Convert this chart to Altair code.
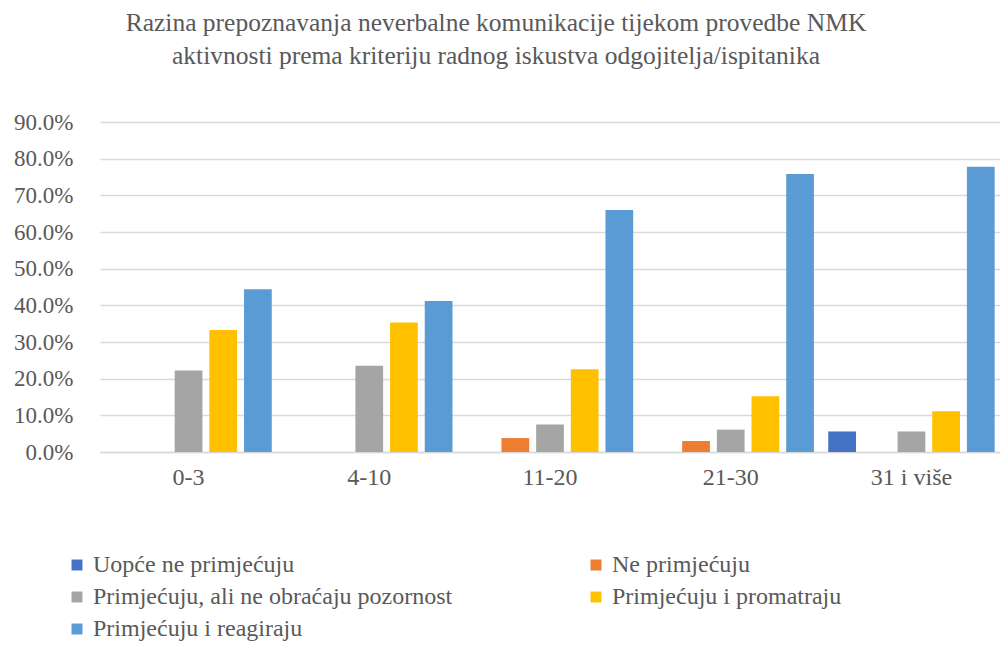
import altair as alt
import pandas as pd

groups = ["0-3", "4-10", "11-20", "21-30", "31 i više"]
series = [
    "Uopće ne primjećuju",
    "Ne primjećuju",
    "Primjećuju, ali ne obraćaju pozornost",
    "Primjećuju i  promatraju",
    "Primjećuju i reagiraju",
]
colors = ["#4472C4", "#ED7D31", "#A5A5A5", "#FFC000", "#5B9BD5"]

uopce_ne = [0.0, 0.0, 0.0, 0.0, 5.6]
ne_prim = [0.0, 0.0, 3.8, 3.0, 0.0]
prim_ali = [22.2, 23.5, 7.5, 6.1, 5.6]
prim_prom = [33.3, 35.3, 22.6, 15.2, 11.1]
prim_reag = [44.4, 41.2, 66.0, 75.8, 77.8]

rows = []
for s, vals in zip(series, [uopce_ne, ne_prim, prim_ali, prim_prom, prim_reag]):
    for g, v in zip(groups, vals):
        rows.append({"grupa": g, "serija": s, "vrijednost": v / 100.0})
df = pd.DataFrame(rows)

FONT = "'Liberation Serif', 'Times New Roman', 'DejaVu Serif', serif"
TXT = "#595959"

chart = (
    alt.Chart(df)
    .mark_bar()
    .encode(
        x=alt.X(
            "grupa:N",
            sort=groups,
            title=None,
            scale=alt.Scale(paddingInner=0.06, paddingOuter=0.02),
            axis=alt.Axis(
                labelAngle=0,
                labelFont=FONT,
                labelFontSize=24,
                labelColor=TXT,
                labelPadding=13,
                ticks=False,
                domainColor="#D9D9D9",
                domainWidth=1.5,
                grid=False,
            ),
        ),
        xOffset=alt.XOffset(
            "serija:N",
            sort=series,
            scale=alt.Scale(paddingInner=0.2, paddingOuter=0.05),
        ),
        y=alt.Y(
            "vrijednost:Q",
            title=None,
            scale=alt.Scale(domain=[0, 0.9], nice=False),
            axis=alt.Axis(
                values=[0, 0.1, 0.2, 0.3, 0.4, 0.5, 0.6, 0.7, 0.8, 0.9],
                format=".1%",
                labelFont=FONT,
                labelFontSize=23,
                labelColor=TXT,
                labelPadding=27,
                ticks=False,
                domain=False,
                gridColor="#D9D9D9",
                gridWidth=1.5,
            ),
        ),
        color=alt.Color(
            "serija:N",
            sort=series,
            scale=alt.Scale(domain=series, range=colors),
            legend=alt.Legend(
                title=None,
                orient="none",
                legendX=-35,
                legendY=431,
                direction="horizontal",
                columns=2,
                columnPadding=131,
                rowPadding=8,
                symbolType="square",
                symbolSize=120,
                symbolStrokeWidth=0,
                labelFont=FONT,
                labelFontSize=24,
                labelColor=TXT,
                labelOffset=4,
                labelLimit=600,
            ),
        ),
    )
    .properties(
        width=900,
        height=330,
        autosize=alt.AutoSizeParams(type="none"),
        padding={"left": 92, "top": 114, "right": 0, "bottom": 190},
        title=alt.TitleParams(
            text=[
                "Razina prepoznavanja neverbalne komunikacije tijekom provedbe NMK",
                "aktivnosti prema kriteriju radnog iskustva odgojitelja/ispitanika",
            ],
            font=FONT,
            fontSize=25.5,
            fontWeight="normal",
            color=TXT,
            lineHeight=33,
            anchor="middle",
            dx=-54,
            offset=42,
        ),
    )
    .configure_view(stroke=None)
)

chart.save("out.html", embed_options={"renderer": "svg", "actions": False})
